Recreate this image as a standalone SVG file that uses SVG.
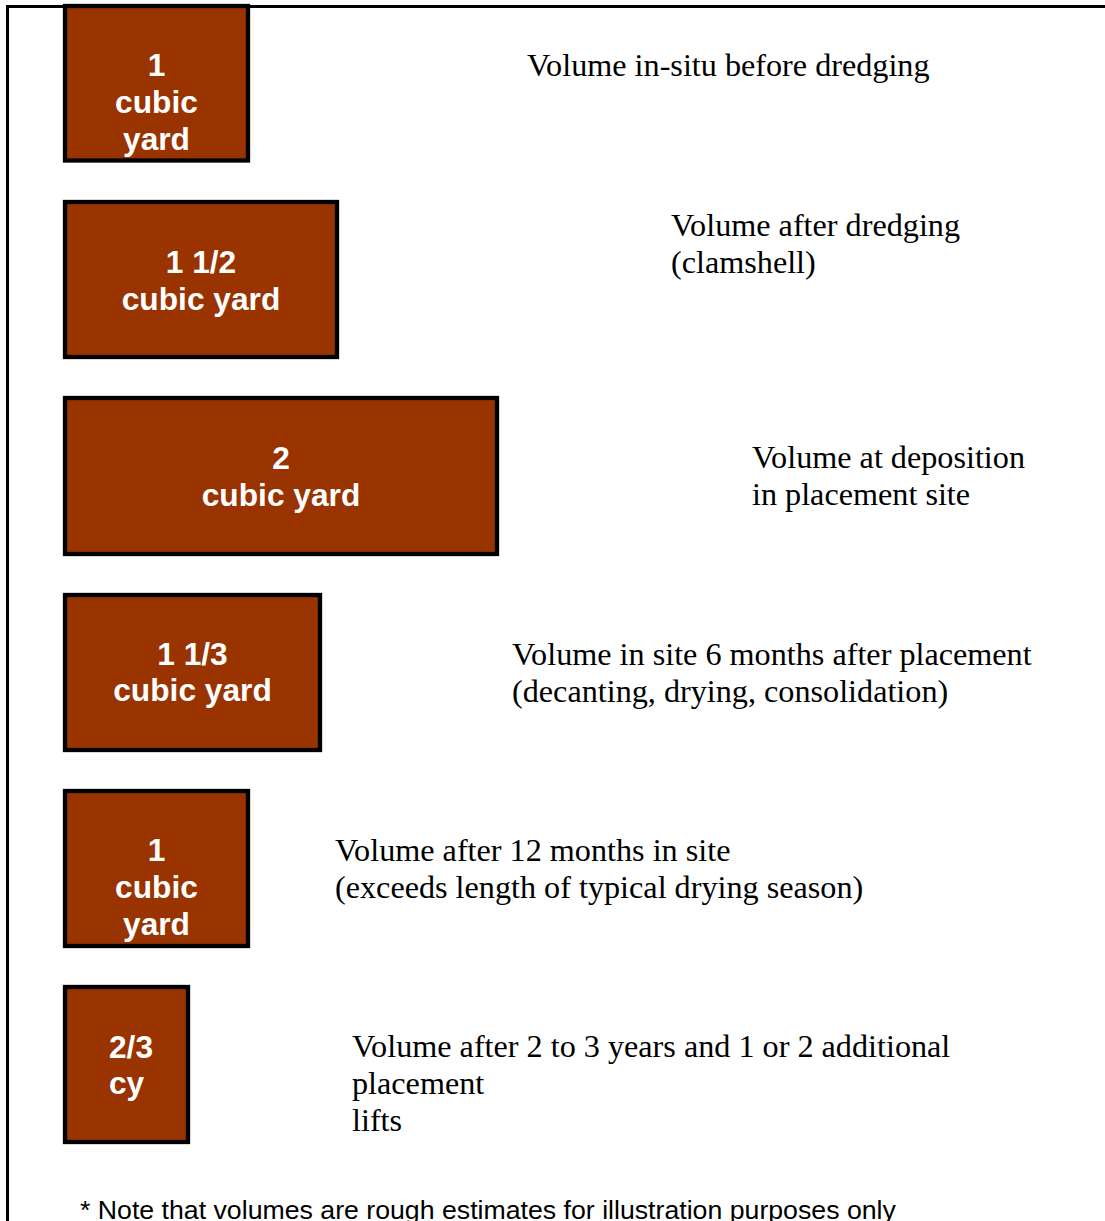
<svg xmlns="http://www.w3.org/2000/svg" width="1105" height="1221" viewBox="0 0 1105 1221">
<style>
.box{fill:#993300;stroke:#000;stroke-width:4.3}
.bl{font-family:"Liberation Sans",Arial,sans-serif;font-weight:bold;font-size:31.7px;fill:#fff;text-anchor:middle}
.lb{font-family:"Liberation Serif","Times New Roman",serif;font-size:32.2px;fill:#000}
.note{font-family:"Liberation Sans",Arial,sans-serif;font-size:26.7px;fill:#000}
.frame{fill:none;stroke:#000;stroke-width:3}
</style>
<rect width="1105" height="1221" fill="#fff"/>
<g id="n1">
<rect class="box" x="65" y="6" width="183" height="154.5"/>
<text class="bl" x="156.5" y="76">1</text>
<text class="bl" x="156.5" y="113">cubic</text>
<text class="bl" x="156.5" y="150">yard</text>
<text class="lb" x="527" y="76">Volume in-situ before dredging</text>
</g>
<g id="n2">
<rect class="box" x="65" y="202" width="272" height="155"/>
<text class="bl" x="201" y="273">1 1/2</text>
<text class="bl" x="201" y="310">cubic yard</text>
<text class="lb" x="671" y="236">Volume after dredging</text>
<text class="lb" x="671" y="273">(clamshell)</text>
</g>
<g id="n3">
<rect class="box" x="65" y="398" width="432" height="156"/>
<text class="bl" x="281" y="469">2</text>
<text class="bl" x="281" y="506">cubic yard</text>
<text class="lb" x="752" y="468">Volume at deposition</text>
<text class="lb" x="752" y="505">in placement site</text>
</g>
<g id="n4">
<rect class="box" x="65" y="595" width="255" height="155"/>
<text class="bl" x="192.5" y="665">1 1/3</text>
<text class="bl" x="192.5" y="701">cubic yard</text>
<text class="lb" x="512" y="665">Volume in site 6 months after placement</text>
<text class="lb" x="512" y="702">(decanting, drying, consolidation)</text>
</g>
<g id="n5">
<rect class="box" x="65" y="791" width="183" height="155"/>
<text class="bl" x="156.5" y="861">1</text>
<text class="bl" x="156.5" y="898">cubic</text>
<text class="bl" x="156.5" y="935">yard</text>
<text class="lb" x="335" y="861">Volume after 12 months in site</text>
<text class="lb" x="335" y="898">(exceeds length of typical drying season)</text>
</g>
<g id="n6">
<rect class="box" x="65" y="987" width="123" height="155"/>
<text class="bl" x="109" y="1058" style="text-anchor:start">2/3</text>
<text class="bl" x="109" y="1094" style="text-anchor:start">cy</text>
<text class="lb" x="352" y="1057">Volume after 2 to 3 years and 1 or 2 additional</text>
<text class="lb" x="352" y="1094">placement</text>
<text class="lb" x="352" y="1131">lifts</text>
</g>
<g id="connectors">
<path class="frame" d="M7.5 1221 V6.5 H1105"/>
</g>
<text class="note" x="80" y="1219">* Note that volumes are rough estimates for illustration purposes only</text>
</svg>
